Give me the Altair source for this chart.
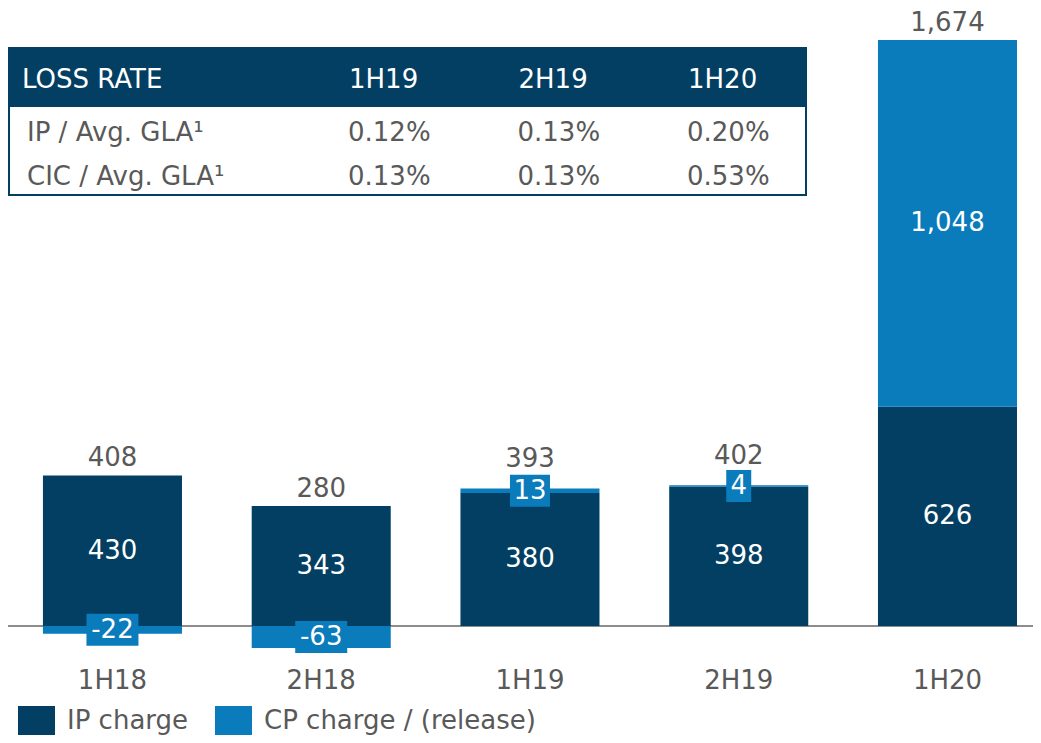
import altair as alt
import pandas as pd

# ---- data ----
periods = ["1H18", "2H18", "1H19", "2H19", "1H20"]
ip_charge = [430, 343, 380, 398, 626]
cp_charge = [-22, -63, 13, 4, 1048]
totals = [408, 280, 393, 402, 1674]
series_names = ["IP charge", "CP charge / (release)"]

table_header = ["LOSS RATE", "1H19", "2H19", "1H20"]
table_rows = ["IP / Avg. GLA¹", "CIC / Avg. GLA¹"]
ip_rate = ["0.12%", "0.13%", "0.20%"]
cic_rate = ["0.13%", "0.13%", "0.53%"]

NAVY = "#023f63"
BLUE = "#0a7bbb"
GREY = "#595959"
FONT = "Verdana, DejaVu Sans"

wide = pd.DataFrame({"period": periods, "ip": ip_charge, "cp": cp_charge, "total": totals})
long = pd.DataFrame(
    [{"period": p, "series": series_names[0], "value": v, "ord": 0} for p, v in zip(periods, ip_charge)]
    + [{"period": p, "series": series_names[1], "value": v, "ord": 1} for p, v in zip(periods, cp_charge)]
)

x_enc = alt.X(
    "period:N",
    sort=periods,
    scale=alt.Scale(paddingInner=0.334, paddingOuter=0.122, align=0.686),
    axis=alt.Axis(title=None, labelAngle=0, labelFontSize=26, labelColor=GREY, labelFont=FONT,
                  ticks=False, domain=False, labelPadding=19, labelBaseline="middle"),
)
y_scale = alt.Scale(domain=[-100, 1748.3], nice=False, zero=False)

base = alt.Chart(wide)

zero_rule = alt.Chart(pd.DataFrame({"z": [0]})).mark_rule(color="#8c8c8c", strokeWidth=2).encode(
    y=alt.Y("z:Q", scale=y_scale, axis=None), x=alt.value(0), x2=alt.value(1025)
)

bars = alt.Chart(long).mark_bar().encode(
    x=x_enc,
    y=alt.Y("value:Q", stack="zero", scale=y_scale, axis=None),
    color=alt.Color(
        "series:N",
        scale=alt.Scale(domain=series_names, range=[NAVY, BLUE]),
        legend=alt.Legend(
            title=None, orient="none", direction="horizontal", legendX=10, legendY=688,
            symbolType="M-1,-0.78L1,-0.78L1,0.78L-1,0.78Z", symbolSize=1369,
            symbolStrokeWidth=0, symbolOpacity=1,
            labelFontSize=26, labelColor=GREY, labelFont=FONT, labelOffset=12, labelLimit=600,
            columnPadding=26, padding=0,
        ),
    ),
    order=alt.Order("ord:Q"),
)

ip_labels = base.mark_text(fontSize=26, color="white", font=FONT, baseline="middle").transform_calculate(
    ymid="datum.ip / 2"
).encode(x=x_enc, y=alt.Y("ymid:Q", scale=y_scale, axis=None), text=alt.Text("ip:Q", format=",d"))

cp_calc = base.transform_calculate(
    ymid="datum.cp > 0 ? datum.ip + datum.cp / 2 : datum.cp / 2",
    ndig="length(toString(abs(datum.cp)))",
    cplabel="(datum.cp < 0 ? '-' : '') + format(abs(datum.cp), ',d')",
)

boxes = cp_calc.transform_filter("abs(datum.cp) < 100").transform_calculate(
    hw="(15 * datum.ndig + 10 + (datum.cp < 0 ? 12 : 0)) / 32"
).transform_calculate(
    path="'M' + (-datum.hw) + ',-1L' + datum.hw + ',-1L' + datum.hw + ',1L' + (-datum.hw) + ',1Z'"
).mark_point(filled=True, opacity=1, size=1024, color=BLUE, strokeWidth=0).encode(
    x=x_enc, y=alt.Y("ymid:Q", scale=y_scale, axis=None), shape=alt.Shape("path:N", scale=None)
)

cp_labels = cp_calc.mark_text(fontSize=26, color="white", font=FONT, baseline="middle").encode(
    x=x_enc, y=alt.Y("ymid:Q", scale=y_scale, axis=None), text="cplabel:N"
)

top_calc = base.transform_calculate(top="max(datum.ip, datum.ip + datum.cp)")
total_plain = top_calc.transform_filter("!(datum.cp > 0 && datum.cp < 100)").mark_text(
    fontSize=26, color=GREY, font=FONT, baseline="middle", dy=-17
).encode(x=x_enc, y=alt.Y("top:Q", scale=y_scale, axis=None), text=alt.Text("total:Q", format=",d"))
total_boxed = top_calc.transform_filter("datum.cp > 0 && datum.cp < 100").mark_text(
    fontSize=26, color=GREY, font=FONT, baseline="middle", dy=-29
).encode(x=x_enc, y=alt.Y("top:Q", scale=y_scale, axis=None), text=alt.Text("total:Q", format=",d"))

# ---- loss-rate table ----
one = pd.DataFrame({"k": [0]})
tbl_border = alt.Chart(one).mark_rect(fill="white", stroke=NAVY, strokeWidth=2).encode(
    x=alt.value(1), x2=alt.value(798), y=alt.value(34), y2=alt.value(181)
)
tbl_head = alt.Chart(one).mark_rect(fill=NAVY).encode(
    x=alt.value(0), x2=alt.value(799), y=alt.value(34), y2=alt.value(93)
)
head_df = pd.DataFrame({"label": table_header, "c": list(range(len(table_header)))})
head_text = alt.Chart(head_df).transform_calculate(
    px="datum.c == 0 ? 14 : 341 + (datum.c - 1) * 169.5"
).mark_text(fontSize=26, color="white", font=FONT, align="left", baseline="middle").encode(
    x=alt.X("px:Q", scale=None), y=alt.value(66), text="label:N"
)
row_df = pd.DataFrame({"label": table_rows, "r": [0, 1]})
row_text = alt.Chart(row_df).transform_calculate(py="119 + datum.r * 44").mark_text(
    fontSize=26, color=GREY, font=FONT, align="left", baseline="middle"
).encode(x=alt.value(19), y=alt.Y("py:Q", scale=None), text="label:N")
val_df = pd.DataFrame(
    [{"v": v, "r": 0, "c": i} for i, v in enumerate(ip_rate)]
    + [{"v": v, "r": 1, "c": i} for i, v in enumerate(cic_rate)]
)
val_text = alt.Chart(val_df).transform_calculate(
    px="340 + datum.c * 169.5", py="119 + datum.r * 44"
).mark_text(fontSize=26, color=GREY, font=FONT, align="left", baseline="middle").encode(
    x=alt.X("px:Q", scale=None), y=alt.Y("py:Q", scale=None), text="v:N"
)

chart = alt.layer(
    zero_rule, bars, boxes, ip_labels, cp_labels, total_plain, total_boxed,
    tbl_border, tbl_head, head_text, row_text, val_text,
).properties(
    width=1025, height=647,
    autosize=alt.AutoSizeParams(type="none"),
    padding={"left": 0, "top": 6, "right": 0, "bottom": 74},
).configure(font=FONT).configure_view(strokeWidth=0, stroke="transparent")

chart.save("out.html", embed_options={"renderer": "svg", "actions": False})
